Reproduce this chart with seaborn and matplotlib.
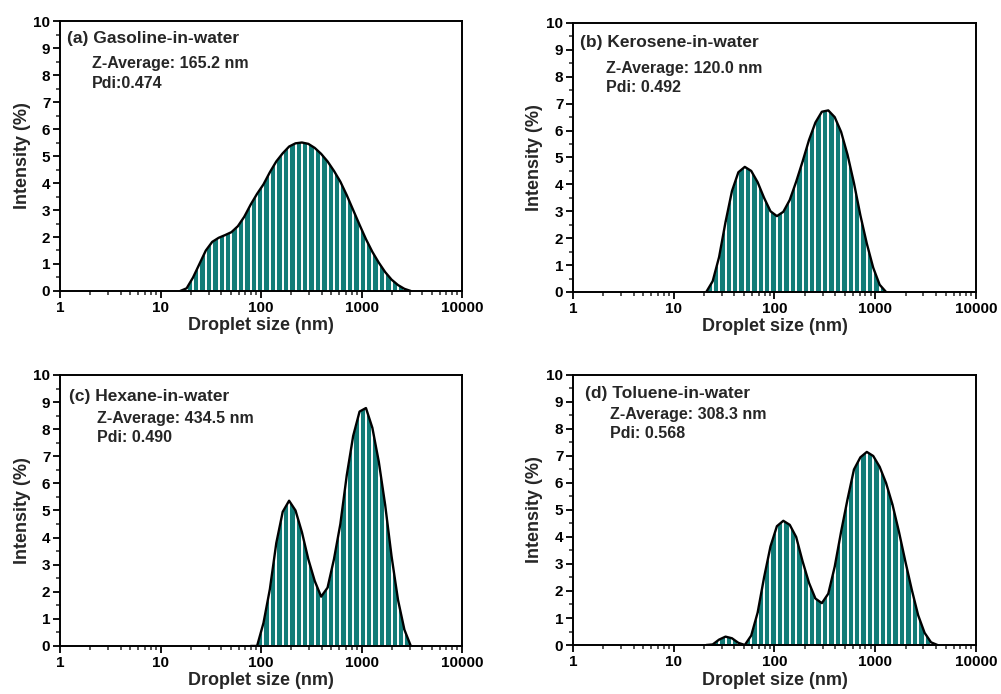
import numpy as np
import pandas as pd
import matplotlib
matplotlib.use("Agg")
import matplotlib.pyplot as plt
from matplotlib.ticker import FixedLocator, FixedFormatter, NullFormatter, MultipleLocator
import seaborn as sns

# ---------------- data ----------------
# DLS size bins (nm)
sizes_a = [15.69, 18.17, 21.04, 24.36, 28.21, 32.67, 37.84, 43.82, 50.75, 58.77, 68.06, 78.82,
           91.28, 105.7, 122.4, 141.8, 164.2, 190.1, 220.2, 255.0, 295.3, 342.0, 396.1, 458.7,
           531.2, 615.1, 712.4, 825.0, 955.4, 1106, 1281, 1484, 1718, 1990, 2305, 2669, 3091]
intensity_a = [0, 0.1, 0.5, 1.0, 1.5, 1.82, 1.97, 2.07, 2.18, 2.4, 2.75, 3.2,
               3.6, 3.95, 4.4, 4.8, 5.1, 5.35, 5.47, 5.5, 5.45, 5.3, 5.08, 4.8,
               4.45, 4.05, 3.55, 3.0, 2.45, 1.92, 1.45, 1.05, 0.7, 0.42, 0.22, 0.08, 0.0]

sizes_b = [21.04, 24.36, 28.21, 32.67, 37.84, 43.82, 50.75, 58.77, 68.06, 78.82, 91.28, 105.7,
           122.4, 141.8, 164.2, 190.1, 220.2, 255.0, 295.3, 342.0, 396.1, 458.7, 531.2, 615.1,
           712.4, 825.0, 955.4, 1106, 1281]
intensity_b = [0, 0.4, 1.3, 2.6, 3.75, 4.45, 4.65, 4.5, 4.08, 3.5, 3.0, 2.82,
               2.98, 3.42, 4.1, 4.85, 5.65, 6.3, 6.7, 6.75, 6.5, 5.95, 5.1, 4.05,
               2.85, 1.8, 0.9, 0.27, 0.0]

sizes_c = [78.82, 91.28, 105.7, 122.4, 141.8, 164.2, 190.1, 220.2, 255.0, 295.3, 342.0, 396.1,
           458.7, 531.2, 615.1, 712.4, 825.0, 955.4, 1106, 1281, 1484, 1718, 1990, 2305,
           2669, 3091]
intensity_c = [0, 0, 0.85, 2.1, 3.8, 4.95, 5.36, 5.0, 4.2, 3.2, 2.4, 1.82,
               2.15, 3.2, 4.5, 6.3, 7.75, 8.65, 8.78, 8.05, 6.8, 5.2, 3.3, 1.7,
               0.6, 0.0]

sizes_d = [21.04, 24.36, 28.21, 32.67, 37.84, 43.82, 50.75, 58.77, 68.06, 78.82, 91.28, 105.7,
           122.4, 141.8, 164.2, 190.1, 220.2, 255.0, 295.3, 342.0, 396.1, 458.7, 531.2, 615.1,
           712.4, 825.0, 955.4, 1106, 1281, 1484, 1718, 1990, 2305, 2669, 3091, 3580, 4145]
intensity_d = [0, 0.02, 0.2, 0.31, 0.25, 0.08, 0.0, 0.35, 1.2, 2.5, 3.65, 4.4,
               4.6, 4.45, 4.0, 3.1, 2.3, 1.72, 1.55, 1.9, 2.9, 4.2, 5.4, 6.5,
               6.95, 7.15, 7.0, 6.6, 6.0, 5.2, 4.2, 3.1, 2.05, 1.1, 0.45, 0.1, 0.0]

titles = ["(a) Gasoline-in-water", "(b) Kerosene-in-water",
          "(c) Hexane-in-water", "(d) Toluene-in-water"]
zavg_labels = ["Z-Average: 165.2 nm", "Z-Average: 120.0 nm",
               "Z-Average: 434.5 nm", "Z-Average: 308.3 nm"]
pdi_labels = ["Pdi:0.474", "Pdi: 0.492", "Pdi: 0.490", "Pdi: 0.568"]

x_tick_values = [1, 10, 100, 1000, 10000]
x_tick_labels = ["1", "10", "100", "1000", "10000"]
y_tick_values = list(range(0, 11))
x_label = "Droplet size (nm)"
y_label = "Intensity (%)"

panels = [(sizes_a, intensity_a), (sizes_b, intensity_b),
          (sizes_c, intensity_c), (sizes_d, intensity_d)]

# ---------------- layout / style ----------------
axes_rects = [
    [0.0600, 0.5807, 0.4016, 0.3890],
    [0.5724, 0.5793, 0.4026, 0.3876],
    [0.0600, 0.0692, 0.4016, 0.3905],
    [0.5724, 0.0706, 0.4026, 0.3891],
]
text_pos = [
    # (title x, title y, info x, zavg y, pdi y) in axes fraction
    (0.017, 0.937, 0.080, 0.844, 0.767),
    (0.017, 0.927, 0.082, 0.832, 0.761),
    (0.021, 0.922, 0.091, 0.838, 0.769),
    (0.030, 0.932, 0.092, 0.854, 0.784),
]
teal = "#117b77"

sns.set_theme(style="ticks")
plt.rcParams["font.family"] = ["Liberation Sans", "DejaVu Sans"]
plt.rcParams["axes.linewidth"] = 1.4

fig = plt.figure(figsize=(10.01, 6.94), dpi=100)

for i, (sz, val) in enumerate(panels):
    ax = fig.add_axes(axes_rects[i])
    df = pd.DataFrame({"size": sz, "intensity": val})
    ax.fill_between(df["size"], 0, df["intensity"], color=teal, linewidth=0, zorder=1)
    ax.vlines(df["size"], 0, df["intensity"], colors="white", linewidth=1.4, zorder=2)
    sns.lineplot(data=df, x="size", y="intensity", ax=ax, color="black",
                 linewidth=1.7, zorder=3, estimator=None, sort=False)
    ax.set_xscale("log")
    ax.set_xlim(1, 10000)
    ax.set_ylim(0, 10)

    ax.xaxis.set_major_locator(FixedLocator(x_tick_values))
    ax.xaxis.set_major_formatter(FixedFormatter(x_tick_labels))
    ax.xaxis.set_minor_locator(matplotlib.ticker.LogLocator(base=10, subs=np.arange(2, 10)))
    ax.xaxis.set_minor_formatter(NullFormatter())
    ax.yaxis.set_major_locator(FixedLocator(y_tick_values))
    ax.yaxis.set_minor_locator(MultipleLocator(0.5))

    ax.tick_params(axis="both", which="major", direction="out", length=5, width=1.3,
                   labelsize=11, pad=2, colors="black")
    ax.tick_params(axis="both", which="minor", direction="out", length=3, width=1.1)
    for lab in ax.get_xticklabels() + ax.get_yticklabels():
        lab.set_fontweight("bold")

    ax.set_xlabel(x_label, fontsize=13, fontweight="bold", labelpad=2)
    ax.set_ylabel(y_label, fontsize=13, fontweight="bold", labelpad=2)
    for s in ax.spines.values():
        s.set_color("black")
        s.set_linewidth(1.4)

    tx, ty, ix, zy, py = text_pos[i]
    ax.text(tx, ty, titles[i], transform=ax.transAxes, fontsize=12.5, fontweight="bold",
            ha="left", va="center")
    ax.text(ix, zy, zavg_labels[i], transform=ax.transAxes, fontsize=11.5, fontweight="bold",
            ha="left", va="center")
    ax.text(ix, py, pdi_labels[i], transform=ax.transAxes, fontsize=11.5, fontweight="bold",
            ha="left", va="center")

fig.savefig("out.png", dpi=100, facecolor="white")
